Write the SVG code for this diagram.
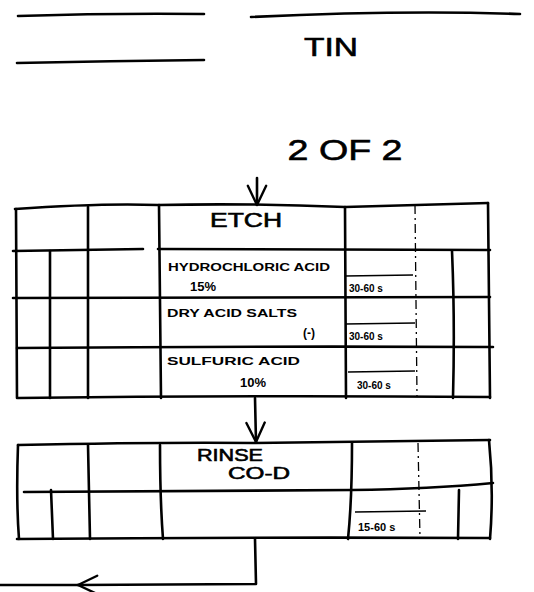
<svg xmlns="http://www.w3.org/2000/svg" width="534" height="592" viewBox="0 0 534 592">
<style>
.ln{stroke:#000;stroke-width:2.6;fill:none;stroke-linecap:round;stroke-linejoin:round}
.th{stroke:#000;stroke-width:1.6;fill:none}
.ds{stroke:#000;stroke-width:1.3;fill:none;stroke-dasharray:9 4 2 4}
.t{font-family:"Liberation Sans",Arial,sans-serif;fill:#000}
.b{font-weight:bold}
.big{stroke:#000;stroke-width:0.6}
</style>
<defs>
<marker id="ah" viewBox="0 0 24 24" refX="23" refY="12" markerWidth="22" markerHeight="22" orient="auto" markerUnits="userSpaceOnUse">
<path d="M2,2 L23,12 L2,22" fill="none" stroke="#000" stroke-width="2.6" stroke-linecap="round" stroke-linejoin="round"/>
</marker>
</defs>
<rect width="534" height="592" fill="#fff"/>
<g id="header">
<path class="ln" d="M18,16 Q110,13 204,14"/>
<path class="ln" d="M17,63 Q110,61 204,60"/>
<path class="ln" d="M251,17 Q400,10 520,14"/>
<text class="t big" x="331" y="56" font-size="26" text-anchor="middle" textLength="54" lengthAdjust="spacingAndGlyphs">TIN</text>
<text class="t big" x="345" y="160" font-size="30" text-anchor="middle" textLength="115" lengthAdjust="spacingAndGlyphs">2 OF 2</text>
</g>
<g id="etch">
<path class="ln" d="M15,209 Q100,203 158,205 Q250,203 345,207 Q420,205 488,203"/>
<path class="ln" d="M13,251 Q70,250 143,249 M158,249 L490,250"/>
<path class="ln" d="M13,298 L490,297"/>
<path class="ln" d="M17,348 Q250,346 493,347"/>
<path class="ln" d="M18,398 Q250,395 490,397"/>
<path class="ln" d="M16,209 L17,398"/>
<path class="ln" d="M50,251 L50,398"/>
<path class="ln" d="M88,207 L88,398"/>
<path class="ln" d="M159,205 L161,398"/>
<path class="ln" d="M345,207 L346,398"/>
<path class="ds" d="M415,205 L417,397"/>
<path class="ln" d="M452,251 Q455,320 453,398"/>
<path class="ln" d="M488,203 L490,398"/>
<path class="th" d="M345,276 L413,275 M345,324 L415,323 M348,372 L415,371"/>
<text class="t big" x="246" y="227" font-size="20" text-anchor="middle" textLength="72" lengthAdjust="spacingAndGlyphs">ETCH</text>
<text class="t b" x="168" y="271" font-size="11.5" textLength="162" lengthAdjust="spacingAndGlyphs">HYDROCHLORIC ACID</text>
<text class="t b" x="190" y="291" font-size="13">15%</text>
<text class="t b" x="167" y="317" font-size="11.5" textLength="130" lengthAdjust="spacingAndGlyphs">DRY ACID SALTS</text>
<text class="t b" x="303" y="337" font-size="12">(-)</text>
<text class="t b" x="167" y="365" font-size="11.5" textLength="133" lengthAdjust="spacingAndGlyphs">SULFURIC ACID</text>
<text class="t b" x="240" y="387" font-size="13">10%</text>
<text class="t b" x="349" y="292" font-size="10">30-60 s</text>
<text class="t b" x="349" y="340" font-size="10">30-60 s</text>
<text class="t b" x="357" y="389" font-size="10">30-60 s</text>
</g>
<g id="rinse">
<path class="ln" d="M18,445 Q160,442 255,443 Q380,441 490,440"/>
<path class="ln" d="M24,492 Q250,490 352,490 Q430,489 493,483"/>
<path class="ln" d="M17,539 Q250,537 490,538"/>
<path class="ln" d="M18,445 Q16,500 19,539"/>
<path class="ln" d="M51,490 L53,539"/>
<path class="ln" d="M88,445 L90,539"/>
<path class="ln" d="M160,445 Q160,500 163,539"/>
<path class="ln" d="M352,443 Q352,500 348,539"/>
<path class="ds" d="M418,443 L420,538"/>
<path class="ln" d="M459,490 L458,539"/>
<path class="ln" d="M489,440 Q494,490 490,539"/>
<path class="th" d="M355,512 L426,511"/>
<text class="t big" x="197" y="461" font-size="17" textLength="66" lengthAdjust="spacingAndGlyphs">RINSE</text>
<text class="t big" x="228" y="479" font-size="17" textLength="62" lengthAdjust="spacingAndGlyphs">CO-D</text>
<text class="t b" x="358" y="531" font-size="11">15-60 s</text>
</g>
<g id="connectors">
<path class="ln" d="M257,178 L257,205" marker-end="url(#ah)"/>
<path class="ln" d="M255,398 L256,442" marker-end="url(#ah)"/>
<path class="ln" d="M255,539 L256,584 L78,585" marker-end="url(#ah)"/>
<path class="ln" d="M78,585 L0,585"/>
</g>
</svg>
